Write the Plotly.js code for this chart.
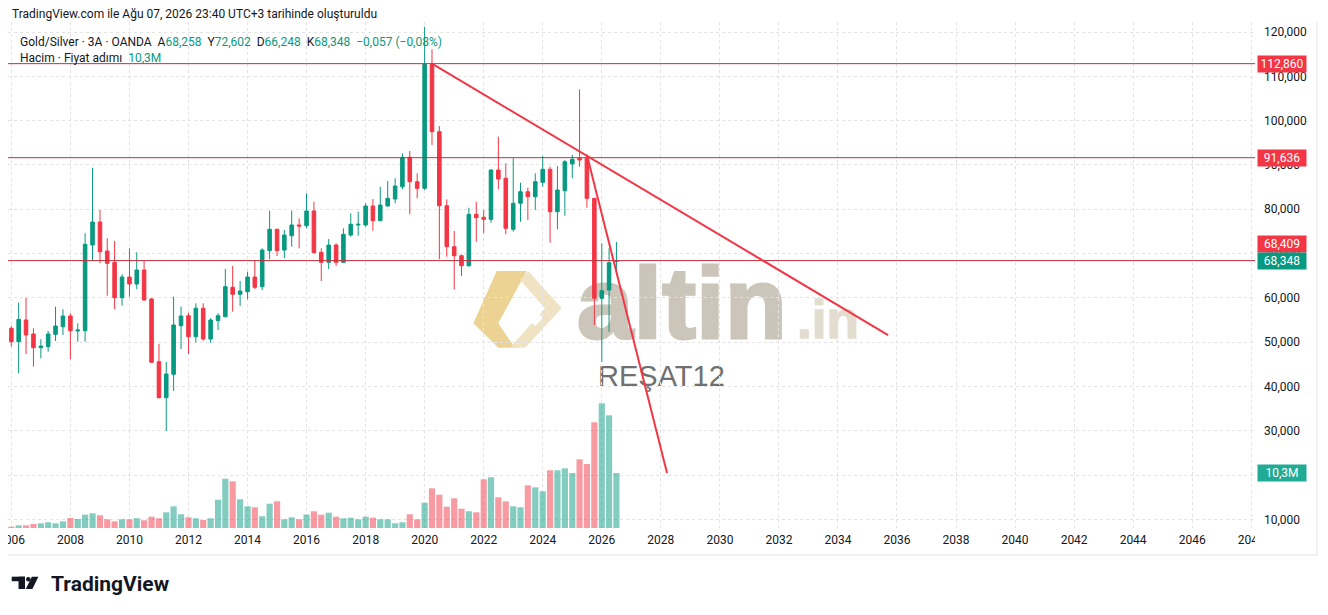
<!DOCTYPE html>
<html><head><meta charset="utf-8">
<script src="https://cdn.plot.ly/plotly-3.0.1.min.js"></script>
<style>html,body{margin:0;padding:0;background:#fff}#chart{width:1328px;height:615px}</style>
</head><body><div id="chart"></div>
<script>
// ---------- DATA (Gold/Silver, 3-month candles, OANDA) ----------
const quarters = ['2006-01','2006-04','2006-07','2006-10','2007-01','2007-04','2007-07','2007-10',
'2008-01','2008-04','2008-07','2008-10','2009-01','2009-04','2009-07','2009-10',
'2010-01','2010-04','2010-07','2010-10','2011-01','2011-04','2011-07','2011-10',
'2012-01','2012-04','2012-07','2012-10','2013-01','2013-04','2013-07','2013-10',
'2014-01','2014-04','2014-07','2014-10','2015-01','2015-04','2015-07','2015-10',
'2016-01','2016-04','2016-07','2016-10','2017-01','2017-04','2017-07','2017-10',
'2018-01','2018-04','2018-07','2018-10','2019-01','2019-04','2019-07','2019-10',
'2020-01','2020-04','2020-07','2020-10','2021-01','2021-04','2021-07','2021-10',
'2022-01','2022-04','2022-07','2022-10','2023-01','2023-04','2023-07','2023-10',
'2024-01','2024-04','2024-07','2024-10','2025-01','2025-04','2025-07','2025-10',
'2026-01','2026-04','2026-07'];
const openVals = [53.12,50.10,55.00,51.84,48.75,48.97,51.77,53.48,55.90,52.51,52.58,71.92,77.11,70.57,68.02,60.03,
64.70,63.12,66.28,59.74,45.58,37.46,42.74,53.71,55.97,51.23,57.64,50.71,54.88,55.74,62.38,60.80,
61.38,64.70,62.51,70.64,75.47,70.79,74.02,76.44,76.28,79.60,70.28,68.02,71.92,68.02,74.18,76.44,
76.44,80.73,77.41,80.73,82.31,85.08,91.72,86.21,84.72,112.71,97.50,80.79,71.54,69.51,67.25,78.85,
78.18,77.72,88.85,86.98,75.47,81.34,83.95,82.82,86.07,89.01,79.44,84.18,90.21,91.49,91.49,82.46,
59.89,61.77,68.258];
const highVals = [53.64,58.90,60.03,53.12,50.64,52.51,58.00,57.41,56.51,54.25,74.57,89.37,79.82,73.44,72.83,65.31,
71.18,70.28,68.31,60.00,49.58,45.52,60.26,58.00,56.64,58.77,58.77,55.38,56.51,66.51,67.18,63.80,
65.90,68.54,71.18,79.67,75.60,75.31,79.67,77.95,83.59,81.70,71.18,73.28,72.31,75.69,79.08,79.44,
81.34,82.31,85.08,86.37,86.98,92.62,93.14,88.11,121.19,116.09,98.78,82.24,75.08,69.80,80.34,81.70,
79.82,89.00,96.37,90.36,91.49,85.98,84.86,88.11,92.01,89.60,89.75,91.11,92.24,107.06,92.39,82.50,
72.31,71.18,72.602];
const lowVals = [48.97,42.97,47.32,44.46,46.35,47.84,50.26,51.61,46.13,50.10,50.10,68.54,67.79,60.48,57.48,58.22,
60.26,61.99,59.35,45.30,37.30,29.94,38.97,48.45,47.32,49.96,50.32,49.87,52.74,55.60,56.87,58.16,
59.67,61.99,61.77,68.70,69.44,68.92,71.54,71.18,75.69,70.05,63.80,66.51,67.25,67.90,73.80,74.02,
76.05,75.15,77.30,80.60,81.34,84.49,78.85,82.46,84.34,94.49,68.70,69.28,61.92,64.93,67.03,72.67,
74.57,76.96,84.50,74.34,74.93,77.18,77.57,79.82,85.08,72.44,75.47,78.54,86.98,89.60,80.34,53.87,
45.52,52.35,66.248];
const closeVals = [50.10,55.15,51.61,48.75,49.13,51.84,53.64,55.90,52.58,52.74,72.08,77.11,70.41,67.79,60.03,64.70,
63.12,66.28,59.51,45.45,37.46,42.81,53.87,55.90,51.23,57.64,50.71,55.00,55.97,62.51,60.80,61.54,
64.70,62.38,70.79,75.47,70.64,74.18,76.44,76.21,79.60,70.19,68.02,71.92,68.02,74.34,76.60,76.60,
80.73,77.41,80.95,82.46,85.24,91.72,86.21,84.72,112.71,97.50,80.79,71.54,69.51,67.25,78.85,78.09,
77.72,88.85,86.82,75.69,81.34,83.95,82.82,86.21,89.01,79.44,84.34,90.72,91.27,91.11,82.46,59.89,
61.61,67.93,68.348];
// volume in millions
const volumeVals = [0.24,0.5,0.5,0.75,0.88,1.07,0.88,1.25,1.87,1.69,2.49,2.75,2.38,1.63,1.25,1.63,1.63,1.82,1.44,2.12,
1.82,2.94,4.06,2.57,2.0,1.82,1.5,1.82,5.3,9.23,8.75,5.38,4.06,3.88,2.19,4.55,5.0,1.63,2.0,1.63,
2.53,3.13,2.49,2.87,2.12,1.82,1.93,1.63,2.12,1.93,1.63,1.63,0.88,1.07,2.57,1.63,4.74,7.44,6.24,3.99,
5.56,3.61,3.13,2.94,9.12,9.5,5.75,5.0,4.06,3.88,8.0,7.62,6.87,10.81,10.81,11.18,10.3,12.87,11.99,19.8,
23.36,21.11,10.3];
const levelValues = [112.86, 91.636, 68.409];
const levelLabels = ['112,860', '91,636', '68,409'];
const lastClose = 68.348, lastCloseLabel = '68,348';
const lastVolume = 10.3, lastVolumeLabel = '10,3M';
const trendStartDates = ['2020-04-01', '2025-07-01'];
const trendStartValues = [112.86, 92.24];
const trendEndDates = ['2035-09-13', '2028-03-18'];
const trendEndValues = [51.6, 20.46];
const yTickVals = [10,20,30,40,50,60,70,80,90,100,110,120];
const yTickText = ['10,000','20,000','30,000','40,000','50,000','60,000','70,000','80,000','90,000','100,000','110,000','120,000'];
const headerText = 'TradingView.com ile Ağu 07, 2026 23:40 UTC+3 tarihinde oluşturuldu';

// ---------- LAYOUT HELPERS ----------
const W = 1328, H = 615, PL = 8, PR = 1255, PT = 22, PB = 528;
const px = x => (x - PL) / (PR - PL);
const py = y => (PB - y) / (PB - PT);
const GREEN = '#089981', RED = '#f23645', TXT = '#131722';
const volColors = openVals.map((o, i) => closeVals[i] >= o ? 'rgba(8,153,129,0.5)' : 'rgba(242,54,69,0.5)');

const candles = {
  type: 'candlestick', x: quarters, open: openVals, high: highVals, low: lowVals, close: closeVals,
  xaxis: 'x', yaxis: 'y', whiskerwidth: 0,
  increasing: {line: {color: GREEN, width: 1}, fillcolor: GREEN},
  decreasing: {line: {color: RED, width: 1}, fillcolor: RED},
  hoverinfo: 'skip', showlegend: false
};
const vols = {
  type: 'bar', x: quarters, y: volumeVals, yaxis: 'y2', marker: {color: volColors, line: {width: 0}},
  hoverinfo: 'skip', showlegend: false
};

const shapes = [];
levelValues.forEach(v => shapes.push({type: 'line', xref: 'paper', yref: 'y', x0: 0, x1: 1, y0: v, y1: v,
  line: {color: '#c42f3d', width: 1}, layer: 'above'}));
trendStartDates.forEach((d, i) => shapes.push({type: 'line', xref: 'x', yref: 'y', x0: d, x1: trendEndDates[i],
  y0: trendStartValues[i], y1: trendEndValues[i], line: {color: RED, width: 2}, layer: 'above'}));
// frame lines
shapes.push({type: 'line', xref: 'paper', yref: 'paper', x0: px(8), x1: px(1317), y0: py(555), y1: py(555), line: {color: '#e0e3eb', width: 1}});
shapes.push({type: 'line', xref: 'paper', yref: 'paper', x0: px(1317), x1: px(1317), y0: py(22), y1: py(555), line: {color: '#e0e3eb', width: 1}});
// masks for clipped time labels
shapes.push({type: 'rect', xref: 'paper', yref: 'paper', x0: px(-2), x1: px(8), y0: py(552), y1: py(531), fillcolor: '#fff', line: {width: 0}, layer: 'above'});
shapes.push({type: 'rect', xref: 'paper', yref: 'paper', x0: px(1255), x1: px(1272), y0: py(552), y1: py(531), fillcolor: '#fff', line: {width: 0}, layer: 'above'});
// TradingView logo mark
shapes.push({type: 'rect', xref: 'paper', yref: 'paper', x0: px(11.7), x1: px(25), y0: py(581.2), y1: py(576.7), fillcolor: TXT, line: {width: 0}});
shapes.push({type: 'rect', xref: 'paper', yref: 'paper', x0: px(18.5), x1: px(25), y0: py(589), y1: py(576.7), fillcolor: TXT, line: {width: 0}});
shapes.push({type: 'circle', xref: 'paper', yref: 'paper', x0: px(26), x1: px(30.6), y0: py(581.5), y1: py(576.9), fillcolor: TXT, line: {width: 0}});
shapes.push({type: 'path', xref: 'paper', yref: 'paper',
  path: `M ${px(31.8)} ${py(576.7)} L ${px(38.4)} ${py(576.7)} L ${px(32.4)} ${py(589)} L ${px(25.8)} ${py(589)} Z`,
  fillcolor: TXT, line: {width: 0}});

const ann = [];
ann.push({xref: 'paper', yref: 'paper', x: px(10), y: py(14), xanchor: 'left', yanchor: 'middle', showarrow: false,
  text: headerText, font: {size: 12, color: TXT}});
const g = s => `<span style="color:${GREEN}">${s}</span>`;
ann.push({xref: 'paper', yref: 'paper', x: px(18), y: py(42), xanchor: 'left', yanchor: 'middle', showarrow: false,
  text: 'Gold/Silver · 3A · OANDA  A' + g('68,258') + '  Y' + g('72,602') + '  D' + g('66,248') + '  K' + g('68,348') + '  ' + g('−0,057 (−0,08%)'),
  font: {size: 12, color: TXT}});
ann.push({xref: 'paper', yref: 'paper', x: px(18), y: py(58), xanchor: 'left', yanchor: 'middle', showarrow: false,
  text: 'Hacim · Fiyat adımı  ' + g('10,3M'), font: {size: 12, color: TXT}});
const labelBox = (y, yref, text, bg, shift) => ({xref: 'paper', yref: yref, x: px(1257), y: y, xanchor: 'left', yanchor: 'middle',
  yshift: shift || 0, showarrow: false, text: text, bgcolor: bg, borderpad: 1, width: 46, align: 'center',
  font: {size: 12, color: '#ffffff'}});
ann.push(labelBox(levelValues[0], 'y', levelLabels[0], RED));
ann.push(labelBox(levelValues[1], 'y', levelLabels[1], RED));
ann.push(labelBox(levelValues[2], 'y', levelLabels[2], RED, 17));
ann.push(labelBox(lastClose, 'y', lastCloseLabel, GREEN));
ann.push(labelBox(lastVolume, 'y2', lastVolumeLabel, '#22ab94'));
ann.push({xref: 'paper', yref: 'paper', x: px(49), y: py(584), xanchor: 'left', yanchor: 'middle', showarrow: false,
  text: '<b>TradingView</b>', font: {size: 21, color: TXT, family: 'Roboto, sans-serif'}});

// watermark (drawn below the candles)
const wm = `<svg xmlns="http://www.w3.org/2000/svg" width="400" height="140" viewBox="0 0 400 140" preserveAspectRatio="none">
<polygon points="26.7,16 56.7,16 28.3,68.3 45,92.7 28.3,92.7 3.3,68.3" fill="#ecd394"/>
<polygon points="58.3,16 91.7,53.3 55,92.7 40,92.7 75,53.3 50,25" fill="#efe3c3"/>
<polygon points="65,55 73,63 65,71 57,63" fill="#ffffff"/>
<text x="107" y="83" font-family="Liberation Sans, Arial, sans-serif" font-weight="bold" font-size="101" fill="#cbc5ba" stroke="#cbc5ba" stroke-width="3" letter-spacing="0.5">altin</text>
<text x="327" y="83" font-family="Liberation Sans, Arial, sans-serif" font-weight="bold" font-size="53" fill="#e3ddd0" stroke="#e3ddd0" stroke-width="1.5">.in</text>
<text x="128" y="131" font-family="Liberation Sans, Arial, sans-serif" font-size="29" fill="#707070">REŞAT12</text>
</svg>`;

const layout = {
  width: W, height: H,
  margin: {l: PL, r: W - PR, t: PT, b: H - PB, pad: 0},
  paper_bgcolor: '#ffffff', plot_bgcolor: 'rgba(0,0,0,0)',
  font: {family: 'Roboto, sans-serif', size: 12, color: TXT},
  showlegend: false, hovermode: false, dragmode: false,
  bargap: 0.15, boxgap: 0.3,
  xaxis: {type: 'date', range: ['2005-11-20', '2048-02-17'], rangeslider: {visible: false},
    tick0: '2006-01-01', dtick: 'M24', tickformat: '%Y', ticks: '', ticklabelstandoff: 3,
    ticklabeloverflow: 'allow', showgrid: true,
    gridcolor: '#e3e3e3', griddash: 'dot', gridwidth: 1, zeroline: false, showline: false,
    tickfont: {size: 12, color: TXT}, fixedrange: true},
  yaxis: {side: 'right', range: [8.05, 122.26], tickvals: yTickVals, ticktext: yTickText, ticks: '',
    ticklabelstandoff: 8, showgrid: true, gridcolor: '#e3e3e3', griddash: 'dot', gridwidth: 1,
    zeroline: false, showline: false, tickfont: {size: 12, color: TXT}, fixedrange: true},
  yaxis2: {overlaying: 'y', range: [0, 94.8], visible: false, fixedrange: true},
  shapes: shapes, annotations: ann,
  images: [{source: 'data:image/svg+xml;charset=utf-8,' + encodeURIComponent(wm), xref: 'paper', yref: 'paper',
    x: px(470), y: py(255), sizex: 400 / (PR - PL), sizey: 140 / (PB - PT), xanchor: 'left', yanchor: 'top',
    sizing: 'stretch', layer: 'below', opacity: 1}]
};

Plotly.newPlot('chart', [vols, candles], layout, {displayModeBar: false, staticPlot: true});
</script></body></html>
